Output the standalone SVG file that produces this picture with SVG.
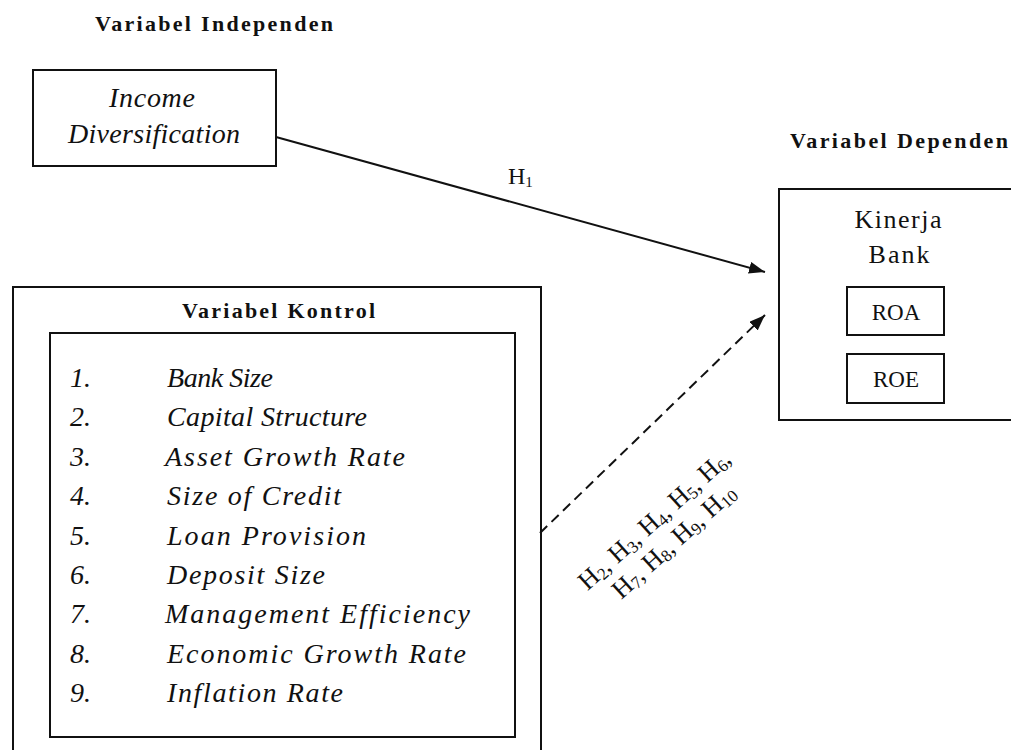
<svg xmlns="http://www.w3.org/2000/svg" width="1011" height="750" viewBox="0 0 1011 750">
<style>
text{font-family:"Liberation Serif","Times New Roman",serif;fill:#111}
.box{fill:#fff;stroke:#111;stroke-width:2}
.ttl{font-weight:bold;font-size:22px}
.it{font-style:italic;font-size:28px}
.rg{font-size:26px}
.sm{font-size:23px}
.h{font-size:24px}
.hs{font-size:26px}
.sub{font-size:15px}
.sub2{font-size:17px}
.edge{stroke:#111;stroke-width:2;fill:none}
</style>
<defs>
<marker id="ah" viewBox="0 0 16 12" refX="16" refY="6" markerWidth="16" markerHeight="12" markerUnits="userSpaceOnUse" orient="auto">
<path d="M0,0 L16,6 L0,12 Z" fill="#111"/>
</marker>
</defs>
<rect width="1011" height="750" fill="#fff"/>

<g id="title-independen"><text class="ttl" x="95" y="31" textLength="238" lengthAdjust="spacing">Variabel Independen</text></g>
<g id="title-dependen"><text class="ttl" x="790" y="148" textLength="218" lengthAdjust="spacing">Variabel Dependen</text></g>

<g id="income">
<rect class="box" x="33" y="70" width="243" height="96"/>
<text class="it" x="152" y="107" text-anchor="middle" textLength="86" lengthAdjust="spacing">Income</text>
<text class="it" x="154" y="143" text-anchor="middle" textLength="172" lengthAdjust="spacing">Diversification</text>
</g>

<g id="kinerja">
<rect class="box" x="779" y="189" width="240" height="231"/>
<text class="rg" x="898" y="228" text-anchor="middle" textLength="87" lengthAdjust="spacing">Kinerja</text>
<text class="rg" x="899" y="263" text-anchor="middle" textLength="61" lengthAdjust="spacing">Bank</text>
<g id="roa"><rect class="box" x="847" y="287" width="97" height="48"/><text class="sm" x="896" y="320" text-anchor="middle">ROA</text></g>
<g id="roe"><rect class="box" x="847" y="354" width="97" height="49"/><text class="sm" x="896" y="387" text-anchor="middle">ROE</text></g>
</g>

<g id="kontrol">
<rect class="box" x="13" y="287" width="528" height="480"/>
<text class="ttl" x="182" y="318" textLength="193" lengthAdjust="spacing">Variabel Kontrol</text>
<rect class="box" x="50" y="333" width="465" height="404"/>
<g class="it">
<text x="70" y="387">1.</text><text x="167" y="387" textLength="106" lengthAdjust="spacing">Bank Size</text>
<text x="70" y="426">2.</text><text x="167" y="426" textLength="200" lengthAdjust="spacing">Capital Structure</text>
<text x="70" y="466">3.</text><text x="165" y="466" textLength="240" lengthAdjust="spacing">Asset Growth Rate</text>
<text x="70" y="505">4.</text><text x="167" y="505" textLength="174" lengthAdjust="spacing">Size of Credit</text>
<text x="70" y="545">5.</text><text x="167" y="545" textLength="199" lengthAdjust="spacing">Loan Provision</text>
<text x="70" y="584">6.</text><text x="167" y="584" textLength="158" lengthAdjust="spacing">Deposit Size</text>
<text x="70" y="623">7.</text><text x="165" y="623" textLength="305" lengthAdjust="spacing">Management Efficiency</text>
<text x="70" y="663">8.</text><text x="167" y="663" textLength="299" lengthAdjust="spacing">Economic Growth Rate</text>
<text x="70" y="702">9.</text><text x="167" y="702" textLength="176" lengthAdjust="spacing">Inflation Rate</text>
</g>
</g>

<g id="connectors">
<line class="edge" x1="276" y1="137" x2="765" y2="272" marker-end="url(#ah)"/>
<text class="h" x="508" y="184">H<tspan class="sub" dy="3">1</tspan></text>
<line class="edge" x1="540" y1="533" x2="765" y2="315" stroke-dasharray="10,6" marker-end="url(#ah)"/>
<g transform="translate(660,526) rotate(-42)">
<text class="hs" x="0" y="0" text-anchor="middle">H<tspan class="sub2" dy="3">2</tspan><tspan dy="-3">, H</tspan><tspan class="sub2" dy="3">3</tspan><tspan dy="-3">, H</tspan><tspan class="sub2" dy="3">4</tspan><tspan dy="-3">, H</tspan><tspan class="sub2" dy="3">5</tspan><tspan dy="-3">, H</tspan><tspan class="sub2" dy="3">6</tspan><tspan dy="-3">,</tspan></text>
<text class="hs" x="0" y="29" text-anchor="middle">H<tspan class="sub2" dy="3">7</tspan><tspan dy="-3">, H</tspan><tspan class="sub2" dy="3">8</tspan><tspan dy="-3">, H</tspan><tspan class="sub2" dy="3">9</tspan><tspan dy="-3">, H</tspan><tspan class="sub2" dy="3">10</tspan></text>
</g>
</g>
</svg>
